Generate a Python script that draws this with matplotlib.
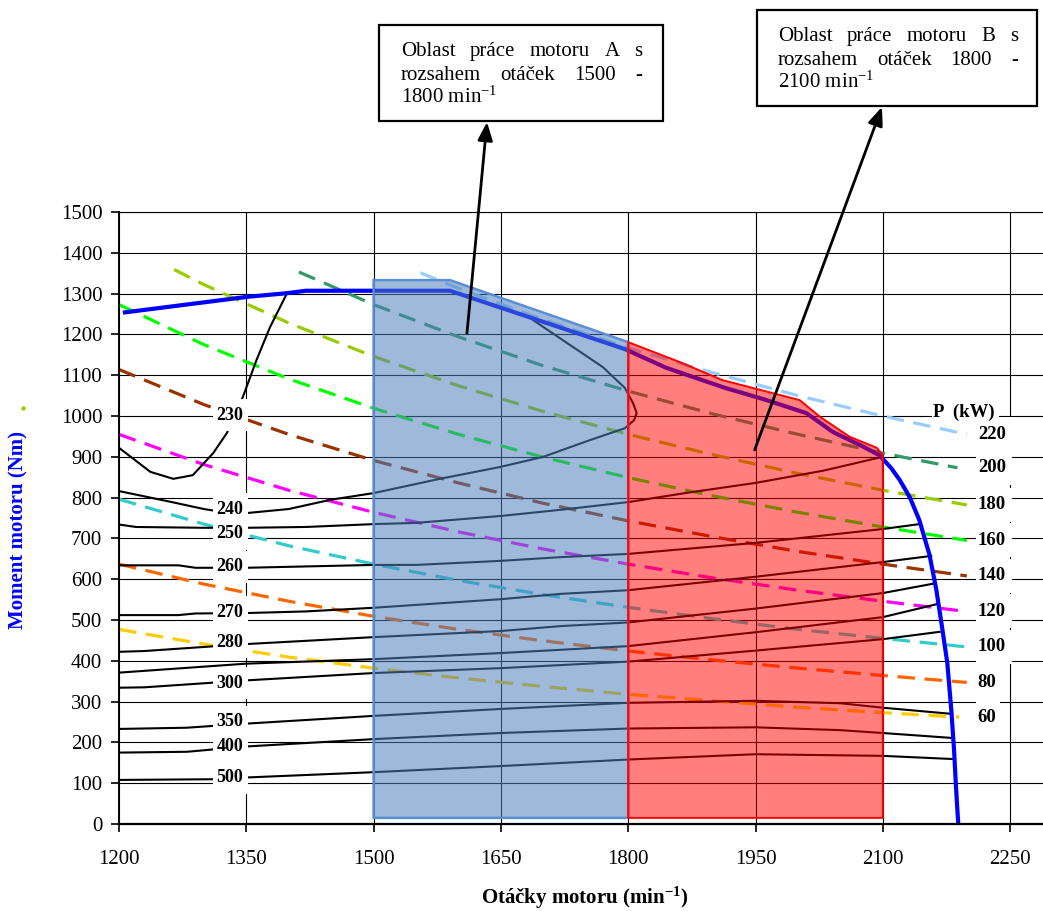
import matplotlib
matplotlib.use("Agg")
import matplotlib.pyplot as plt
from matplotlib.patches import Polygon, Rectangle
from matplotlib.lines import Line2D

plt.rcParams["font.family"] = ["Liberation Serif", "DejaVu Serif"]
plt.rcParams["mathtext.fontset"] = "custom"
plt.rcParams["mathtext.rm"] = "Liberation Serif"
plt.rcParams["mathtext.it"] = "Liberation Serif:italic"
plt.rcParams["mathtext.bf"] = "Liberation Serif:bold"

# ---------------- data ----------------
x_ticks = [1200, 1350, 1500, 1650, 1800, 1950, 2100, 2250]
y_ticks = list(range(0, 1501, 100))

# full-load torque characteristic
full_load_rpm = [1207, 1351, 1398, 1420, 1590, 1796, 1845, 1914, 1963, 2010, 2041,
                 2073, 2096, 2110, 2120, 2132, 2143, 2155, 2163, 2170, 2176, 2181,
                 2184, 2186, 2188, 2189]
full_load_nm = [1254, 1292, 1301, 1307, 1307, 1164, 1118, 1069, 1039, 1007, 961,
                929, 904, 872, 843, 800, 745, 660, 575, 480, 395, 272,
                180, 100, 30, 0]

# constant power lines P (kW)
power_kw = [220, 200, 180, 160, 140, 120, 100, 80, 60]
power_colors = ["#99CCFF", "#339966", "#99CC00", "#00FF00", "#993300",
                "#FF00FF", "#33CCCC", "#FF6600", "#FFCC00"]
rpm_std = [1200, 1300, 1400, 1500, 1600, 1700, 1800, 1900, 2000, 2100, 2199]
power_rpm = [
    [1555, 1600, 1700, 1800, 1900, 2000, 2100, 2199],
    [1412, 1500, 1600, 1700, 1800, 1900, 2000, 2100, 2188],
    [1265, 1300, 1400, 1500, 1600, 1700, 1800, 1900, 2000, 2100, 2199],
    rpm_std,
    rpm_std,
    [1200, 1300, 1400, 1500, 1600, 1700, 1800, 1900, 2000, 2100, 2194],
    rpm_std,
    rpm_std,
    [1200, 1300, 1400, 1500, 1600, 1700, 1800, 1900, 2000, 2100, 2190],
]
power_nm = [
    [1351, 1313, 1236, 1167, 1106, 1050, 1000, 955],
    [1353, 1273, 1194, 1123, 1061, 1005, 955, 909, 873],
    [1359, 1322, 1228, 1146, 1074, 1011, 955, 905, 859, 818, 782],
    [1273, 1175, 1091, 1019, 955, 899, 849, 804, 764, 728, 695],
    [1114, 1028, 955, 891, 836, 786, 743, 704, 668, 637, 608],
    [955, 881, 818, 764, 716, 674, 637, 603, 573, 546, 522],
    [796, 735, 682, 637, 597, 562, 531, 503, 477, 455, 434],
    [637, 588, 546, 509, 477, 449, 424, 402, 382, 364, 347],
    [477, 441, 409, 382, 358, 337, 318, 302, 286, 273, 262],
]

# specific fuel consumption isolines (g/kWh)
bsfc_levels = [230, 240, 250, 260, 270, 280, 290, 300, 350, 400, 500]
bsfc_rpm = [
    [1200, 1237, 1264, 1287, 1311, 1327, 1346, 1362, 1378, 1398],
    [1200, 1260, 1300, 1330, 1350, 1400, 1450, 1500, 1578, 1649, 1700, 1755,
     1796, 1807, 1810, 1806, 1796, 1770, 1735, 1688],
    [1200, 1220, 1300, 1350, 1420, 1500, 1550, 1650, 1720, 1800, 1870, 1950, 2030, 2100],
    [1200, 1270, 1290, 1350, 1500, 1550, 1650, 1720, 1800, 1950, 2100, 2143],
    [1200, 1270, 1290, 1350, 1420, 1500, 1550, 1650, 1720, 1800, 1950, 2100, 2157],
    [1200, 1230, 1350, 1500, 1550, 1650, 1720, 1800, 1950, 2100, 2162],
    [1200, 1350, 1500, 1650, 1800, 1950, 2100, 2164],
    [1200, 1230, 1350, 1500, 1650, 1800, 1950, 2100, 2167],
    [1200, 1280, 1350, 1500, 1650, 1800, 1950, 2050, 2100, 2181],
    [1200, 1280, 1350, 1500, 1650, 1800, 1950, 2050, 2100, 2181],
    [1200, 1330, 1350, 1500, 1650, 1800, 1950, 2100, 2185],
]
bsfc_nm = [
    [922, 863, 846, 855, 909, 958, 1047, 1137, 1218, 1301],
    [816, 790, 772, 762, 762, 772, 795, 811, 846, 875, 900, 941,
     970, 990, 1007, 1030, 1069, 1120, 1169, 1235],
    [734, 728, 726, 726, 728, 735, 738, 755, 770, 789, 812, 836, 866, 900],
    [634, 634, 628, 628, 635, 635, 645, 654, 662, 689, 723, 735],
    [512, 512, 516, 517, 521, 530, 537, 551, 564, 573, 606, 642, 657],
    [422, 424, 441, 458, 463, 473, 485, 494, 528, 566, 590],
    [371, 393, 404, 419, 436, 470, 507, 539],
    [334, 335, 352, 370, 382, 398, 425, 453, 471],
    [233, 236, 246, 265, 282, 297, 302, 296, 285, 270],
    [175, 177, 190, 208, 223, 234, 237, 230, 223, 211],
    [108, 110, 114, 127, 142, 158, 171, 167, 159],
]
bsfc_label_levels = [230, 240, 250, 260, 270, 280, 300, 350, 400, 500]
bsfc_label_nm = [1002, 772, 711, 630, 519, 446, 345, 250, 191, 113]

# operating areas of engines A and B
area_a_rpm = [1500, 1500, 1590, 1800, 1800]
area_a_nm = [15, 1333, 1333, 1181, 15]
area_b_rpm = [1800, 1800, 1861, 1911, 2002, 2026, 2061, 2093, 2100, 2100]
area_b_nm = [15, 1181, 1132, 1088, 1039, 998, 949, 922, 904, 15]

# ---------------- figure ----------------
W, H = 1043, 911
fig = plt.figure(figsize=(W / 100, H / 100), dpi=100)


def fx(px):
    return px / W


def fy(py):
    return 1 - py / H


px_per_rpm = 127.3 / 150.0
ax = fig.add_axes([fx(119), fy(824), (W - 119) / W, (824 - 212) / H])
ax.set_xlim(1200, 1200 + (W - 119) / px_per_rpm)
ax.set_ylim(0, 1500)
ax.set_xticks(x_ticks)
ax.set_yticks(y_ticks)
ax.grid(True, color="black", linewidth=0.8, zorder=0.5)
ax.set_axisbelow(True)
ax.spines["right"].set_visible(False)
ax.spines["top"].set_linewidth(0.8)
ax.spines["left"].set_linewidth(1.4)
ax.spines["bottom"].set_linewidth(1.6)
ax.tick_params(axis="both", direction="out", length=6, width=1.2, labelsize=15)
ax.tick_params(axis="x", pad=13)
ax.tick_params(axis="y", pad=6)

# constant power lines
for rpm, nm, col in zip(power_rpm, power_nm, power_colors):
    ax.plot(rpm, nm, color=col, linewidth=2.3, linestyle=(0, (5.5, 3)), zorder=1.5)

# fuel consumption isolines
for rpm, nm in zip(bsfc_rpm, bsfc_nm):
    ax.plot(rpm, nm, color="black", linewidth=1.5, zorder=1.6)

# full-load torque
ax.plot(full_load_rpm, full_load_nm, color="#0000FF", linewidth=3.0, zorder=1.8,
        solid_joinstyle="round")

# operating areas (translucent so that the curves show through)
ax.add_patch(Polygon(list(zip(area_a_rpm, area_a_nm)), closed=True,
                     facecolor=(79 / 255, 129 / 255, 189 / 255, 0.55),
                     edgecolor="#5B8ED4", linewidth=1.8, zorder=2))
ax.add_patch(Polygon(list(zip(area_b_rpm, area_b_nm)), closed=True,
                     facecolor=(1.0, 0.0, 0.0, 0.5),
                     edgecolor="#FF0000", linewidth=1.4, zorder=2.1))

# isoline labels on white boxes
nm_per_px = 1500 / 612.0
for lev, y in zip(bsfc_label_levels, bsfc_label_nm):
    ax.add_patch(Rectangle((1310.5, y - 16 * nm_per_px), 41.5, 32 * nm_per_px,
                           facecolor="white", edgecolor="none", zorder=4))
    ax.text(1330.5, y, str(lev), ha="center", va="center", fontsize=13,
            fontweight="bold", zorder=5)

# power labels at the line ends
for kw, nm in zip(power_kw, power_nm):
    y = nm[-1]
    wbox = 42 if kw >= 100 else 28
    ax.add_patch(Rectangle((2210, y - 17 * nm_per_px), wbox, 34 * nm_per_px,
                           facecolor="white", edgecolor="none", zorder=4,
                           clip_on=False))
    ax.text(2212, y, str(kw), ha="left", va="center", fontsize=13.5,
            fontweight="bold", zorder=5)

ax.add_patch(Rectangle((2157.5, 1010 - 12 * nm_per_px), 80, 24 * nm_per_px,
                       facecolor="white", edgecolor="none", zorder=4))
ax.text(2195, 1010, "P  (kW)", ha="center", va="center", fontsize=13.5,
        fontweight="bold", zorder=5)

# axis titles
fig.text(fx(18), fy(530), "Moment motoru (Nm)", rotation=90, ha="center",
         va="center", fontsize=15, fontweight="bold", color="#0000FF")
fig.text(fx(585), fy(904), r"Otáčky motoru $\mathbf{(min}^{\mathbf{-1}}\mathbf{)}$",
         ha="center", va="baseline", fontsize=15, fontweight="bold")
fig.add_artist(Line2D([fx(23)], [fy(408)], marker="o", markersize=2.2,
                      color="#99CC00", linestyle="none", transform=fig.transFigure))

# callout boxes
renderer = fig.canvas.get_renderer()


def justified(words, x0, x1, yb, size=15):
    objs = [fig.text(fx(x0), fy(yb), w, fontsize=size, ha="left", va="baseline",
                     zorder=7) for w in words]
    widths = [o.get_window_extent(renderer).width for o in objs]
    gap = (x1 - x0 - sum(widths)) / (len(words) - 1)
    x = x0
    for o, w in zip(objs, widths):
        o.set_x(fx(x))
        x += w + gap


def callout(left, top, right, bottom, line1, line2, line3, tx0, tx1, yb0):
    fig.add_artist(Rectangle((fx(left), fy(bottom)), (right - left) / W,
                             (bottom - top) / H, transform=fig.transFigure,
                             facecolor="white", edgecolor="black", linewidth=1.6,
                             zorder=6))
    justified(line1, tx0, tx1, yb0)
    justified(line2, tx0, tx1, yb0 + 24)
    fig.text(fx(tx0), fy(yb0 + 47), line3, fontsize=15, ha="left",
             va="baseline", zorder=7)


callout(379, 25, 663, 121,
        ["Oblast", "práce", "motoru", "A", "s"],
        ["rozsahem", "otáček", "1500", "-"],
        r"1800 $\mathrm{min}^{-1}$", 401, 642, 56)
callout(757, 10, 1037, 106,
        ["Oblast", "práce", "motoru", "B", "s"],
        ["rozsahem", "otáček", "1800", "-"],
        r"2100 $\mathrm{min}^{-1}$", 778, 1018, 41)

arrow = dict(arrowstyle="-|>,head_length=1.1,head_width=0.45", color="black",
             linewidth=2.0, shrinkA=0, shrinkB=0, mutation_scale=10)
ax.annotate("", xy=(fx(487), fy(122)), xycoords="figure fraction",
            xytext=(1610, 1203), textcoords="data", arrowprops=arrow,
            annotation_clip=False, zorder=6)
ax.annotate("", xy=(fx(882), fy(107)), xycoords="figure fraction",
            xytext=(1949, 917), textcoords="data", arrowprops=arrow,
            annotation_clip=False, zorder=6)

fig.savefig("out.png", dpi=100)
